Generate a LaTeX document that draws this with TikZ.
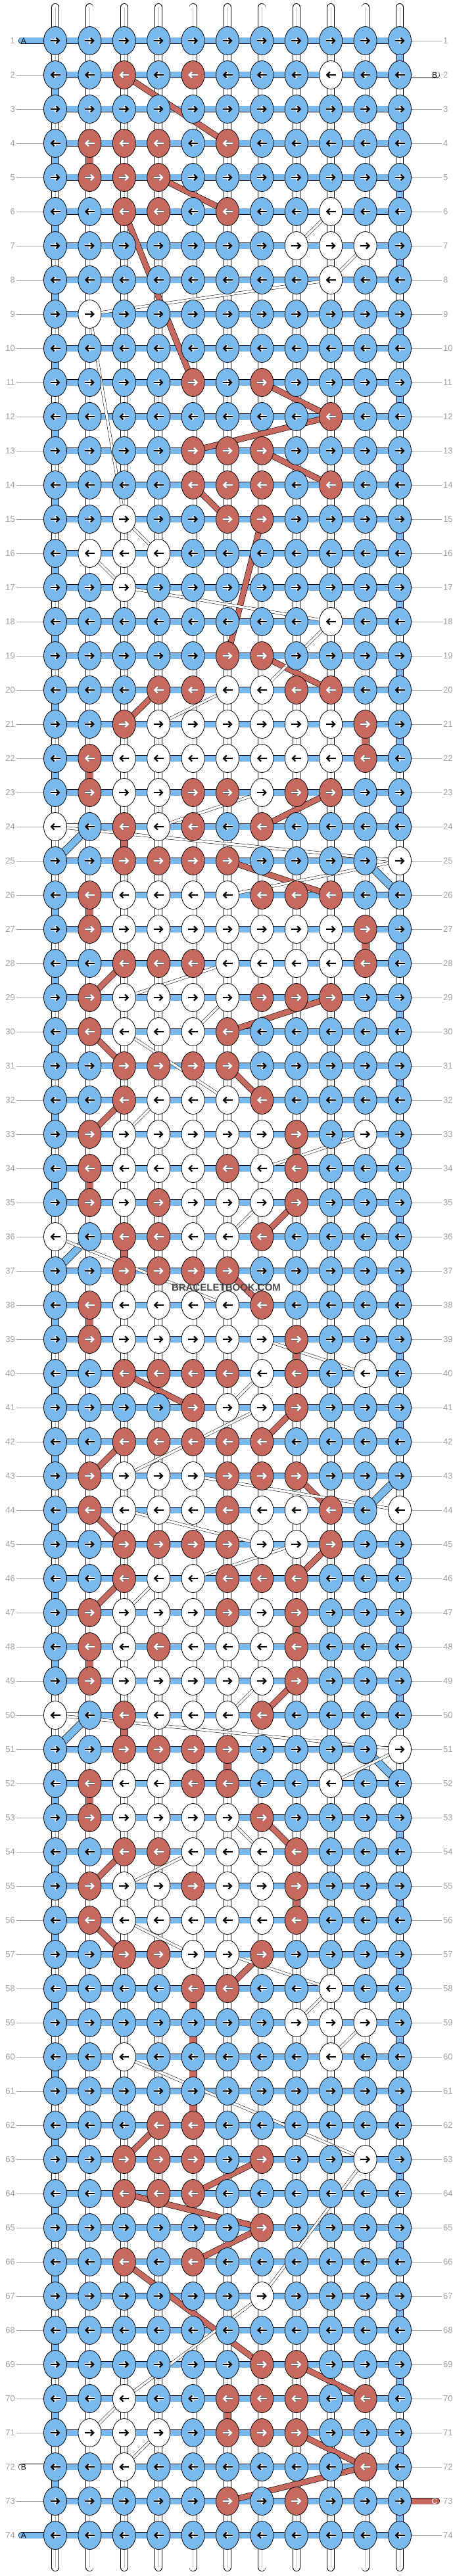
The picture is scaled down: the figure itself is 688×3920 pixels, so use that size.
\documentclass[tikz,border=0pt]{standalone}
\usepackage{fontspec}
\setmainfont{Liberation Sans}
\usetikzlibrary{shapes.geometric, arrows.meta}

\definecolor{threadblue}{RGB}{122,185,238}
\definecolor{threadred}{RGB}{200,105,95}
\definecolor{labelgray}{RGB}{160,160,160}

\tikzset{
    knot/.style={ellipse, draw=black, line width=0.8pt, minimum width=35pt, minimum height=43pt, inner sep=0pt},
    knotb/.style={fill=threadblue},
    knotr/.style={fill=threadred},
    knotw/.style={fill=white},
    arr/.style={line width=2.3pt, -{Straight Barb[length=4.5pt,width=9pt]}},
    arrb/.style={arr, black},
    arrr/.style={arr, white},
    arrw/.style={arr, black},
    halob/.style={arr, white, line width=4.2pt},
    halor/.style={arr, black!55, line width=3.6pt},
    halow/.style={draw=none},
    strand/.style={draw=black, line width=0.7pt, double=white, double distance=10.5pt, line cap=round},
    strandmid/.style={draw=black!25, line width=0.6pt},
    hbar/.style={draw=black, line width=0.7pt, double=threadblue, double distance=9pt},
    wbar/.style={hbar, double=white},
    vbar/.style={hbar, double distance=10.5pt},
    redvert/.style={hbar, double=threadred, double distance=10.5pt},
    redlink/.style={draw=black, line width=0.6pt, double=threadred, double distance=8pt},
    whitelink/.style={draw=black, line width=0.5pt, double=white, double distance=3.5pt},
    tick/.style={draw=labelgray, line width=0.8pt},
    rowlabel/.style={text=labelgray, font=\fontsize{13}{13}\selectfont, inner sep=2pt},
    tail/.style={draw=black, line width=0.7pt, double distance=9pt, line cap=round},
    tailtag/.style={font=\fontsize{12}{12}\selectfont, inner sep=0pt}
}

\begin{document}
\begin{tikzpicture}[x=1pt,y=1pt,yscale=-1]
    \useasboundingbox (0,0) rectangle (688,3920);

    % grid of knot positions
    \foreach \r in {1,...,74}
        \foreach \c in {1,...,11}
            \coordinate (p-\r-\c) at ({84+52.4*(\c-1)},{62+52*(\r-1)});

    % vertical threads
    \foreach \c in {1,...,11} {
        \coordinate (top-\c) at ({84+52.4*(\c-1)},11);
        \coordinate (bot-\c) at ({84+52.4*(\c-1)},3907);
        \draw[strand] (top-\c) -- (bot-\c);
        \draw[strandmid] (top-\c) -- (bot-\c);
    }

    % row numbers
    \foreach \r in {1,...,74} {
        \node[rowlabel, anchor=east] (nl-\r) at (25,{62+52*(\r-1)}) {\r};
        \node[rowlabel, anchor=west] (nr-\r) at (672,{62+52*(\r-1)}) {\r};
    }
    \foreach \r in {2,3,...,71,73}
        \draw[tick] (nl-\r.east) -- (p-\r-1);
    \foreach \r in {1,3,4,...,72,74}
        \draw[tick] (nr-\r.west) -- (p-\r-11);

    % turns of the working thread
    \foreach \r in {1,3,...,23,27,29,...,41,45,47,49,53,55,...,73} {
        \pgfmathtruncatemacro\n{\r+1}
        \draw[vbar] (p-\r-11) -- (p-\n-11);
    }
    \foreach \r in {2,4,...,22,26,28,...,34,38,40,...,48,52,54,...,72} {
        \pgfmathtruncatemacro\n{\r+1}
        \draw[vbar] (p-\r-1) -- (p-\n-1);
    }
    \foreach \a/\b/\c/\d in {24/2/25/1, 25/10/26/11, 36/2/37/1, 43/11/44/10, 50/2/51/1, 51/10/52/11}
        \draw[vbar] (p-\a-\b) -- (p-\c-\d);

    % rows
    \foreach \r in {1,...,74}
        \draw[hbar] (p-\r-1) -- (p-\r-11);
    \foreach \r/\a/\b in {24/1/2, 25/10/11, 36/1/2, 44/10/11, 50/1/2, 51/10/11}
        \draw[wbar] (p-\r-\a) -- (p-\r-\b);

    % loose ends
    \coordinate (tail-A1) at (33,62);
    \coordinate (tail-B2) at (664,114);
    \coordinate (tail-B72) at (33,3754);
    \coordinate (tail-C73) at (664,3806);
    \coordinate (tail-A74) at (33,3858);
    \draw[tail, double=threadblue] (p-1-1) -- (tail-A1);
    \draw[tail, double=white] (p-2-11) -- (tail-B2);
    \draw[tail, double=white] (p-72-1) -- (tail-B72);
    \draw[tail, double=threadred] (p-73-11) -- (tail-C73);
    \draw[tail, double=threadblue] (p-74-1) -- (tail-A74);
    \node[tailtag] (tag-A1) at (36,62) {A};
    \node[tailtag] (tag-B2) at (661,114) {B};
    \node[tailtag] (tag-B72) at (36,3754) {B};
    \node[tailtag, text=white] (tag-C73) at (661,3806) {C};
    \node[tailtag] (tag-A74) at (36,3858) {A};

    % red thread
    \foreach \a/\b/\c/\d in {4/2/5/2, 21/10/22/10, 22/2/23/2, 24/3/25/3, 26/2/27/2, 27/10/28/10,
            33/8/34/8, 34/2/35/2, 36/3/37/3, 38/2/39/2, 39/8/40/8, 47/8/48/8, 48/2/49/2,
            50/3/51/3, 51/6/52/6, 52/2/53/2, 55/8/56/8, 58/5/59/5, 59/5/60/5, 60/5/61/5,
            61/5/62/5, 70/6/71/6}
        \draw[redvert] (p-\a-\b) -- (p-\c-\d);
    \foreach \a/\b/\c/\d in {2/3/4/6, 5/4/6/6, 6/3/11/5, 11/7/12/9, 12/9/13/5, 13/7/14/9, 14/5/15/6,
            15/7/19/6, 19/7/20/9, 20/4/21/3, 23/9/24/7, 25/6/26/9, 28/3/29/2, 29/9/30/6, 30/2/31/3,
            31/6/32/7, 32/3/33/2, 35/8/36/7, 37/6/38/7, 40/3/41/5, 41/8/42/7, 42/3/43/2, 43/8/44/9,
            44/2/45/3, 45/9/46/8, 46/3/47/2, 49/8/50/7, 53/7/54/8, 54/3/55/2, 56/2/57/3, 57/7/58/6,
            62/4/63/3, 63/7/64/5, 64/3/65/7, 65/7/66/5, 66/3/69/7, 69/8/70/10, 71/8/72/10, 72/10/73/6}
        \draw[redlink] (p-\a-\b) -- (p-\c-\d);

    % white threads
    \foreach \a/\b/\c/\d in {6/9/7/8, 7/10/8/9, 8/9/9/2, 9/2/15/3, 15/3/16/4, 16/2/17/3, 17/3/18/9,
            18/9/20/7, 20/6/21/4, 23/7/24/4, 24/1/25/11, 25/11/26/6, 28/6/29/3, 29/6/30/5, 30/3/32/6,
            32/4/33/3, 33/10/34/7, 35/7/36/6, 36/1/38/6, 39/7/40/10, 40/7/41/6, 41/7/43/3, 43/5/44/11,
            44/3/45/7, 45/8/46/5, 46/4/47/3, 49/7/50/6, 50/1/51/11, 51/11/52/9, 53/6/54/7, 54/5/55/3,
            56/3/57/5, 57/6/58/9, 58/9/59/8, 59/10/60/9, 60/3/63/10, 63/10/67/7, 67/7/70/3, 70/3/71/2,
            71/4/72/3}
        \draw[whitelink] (p-\a-\b) -- (p-\c-\d);

    % knots
    \foreach \r/\pat in {
            1/{b,b,b,b,b,b,b,b,b,b,b}, 2/{b,b,r,b,r,b,b,b,w,b,b}, 3/{b,b,b,b,b,b,b,b,b,b,b},
            4/{b,r,r,r,b,r,b,b,b,b,b}, 5/{b,r,r,r,b,b,b,b,b,b,b}, 6/{b,b,r,r,b,r,b,b,w,b,b},
            7/{b,b,b,b,b,b,b,w,w,w,b}, 8/{b,b,b,b,b,b,b,b,w,b,b}, 9/{b,w,b,b,b,b,b,b,b,b,b},
            10/{b,b,b,b,b,b,b,b,b,b,b}, 11/{b,b,b,b,r,b,r,b,b,b,b}, 12/{b,b,b,b,b,b,b,b,r,b,b},
            13/{b,b,b,b,r,r,r,b,b,b,b}, 14/{b,b,b,b,r,r,r,b,r,b,b}, 15/{b,b,w,b,b,r,r,b,b,b,b},
            16/{b,w,w,w,b,b,b,b,b,b,b}, 17/{b,b,w,b,b,b,b,b,b,b,b}, 18/{b,b,b,b,b,b,b,b,w,b,b},
            19/{b,b,b,b,b,r,r,b,b,b,b}, 20/{b,b,b,r,r,w,w,r,r,b,b}, 21/{b,b,r,w,w,w,w,w,w,r,b},
            22/{b,r,w,w,w,w,w,w,w,r,b}, 23/{b,r,w,w,r,r,w,r,r,b,b}, 24/{w,b,r,w,r,b,r,b,b,b,b},
            25/{b,b,r,r,r,r,b,b,b,b,w}, 26/{b,r,w,w,w,w,r,r,r,b,b}, 27/{b,r,w,w,w,w,w,w,w,r,b},
            28/{b,b,r,r,r,w,w,w,w,r,b}, 29/{b,r,w,w,w,w,r,r,r,b,b}, 30/{b,r,w,w,w,r,b,b,b,b,b},
            31/{b,b,r,r,r,r,b,b,b,b,b}, 32/{b,b,r,w,w,w,r,b,b,b,b}, 33/{b,r,w,w,w,w,w,r,b,w,b},
            34/{b,r,w,w,w,r,w,r,b,b,b}, 35/{b,r,w,r,w,w,w,r,b,b,b}, 36/{w,b,r,r,w,w,r,b,b,b,b},
            37/{b,b,r,r,r,r,b,b,b,b,b}, 38/{b,r,w,w,w,w,r,b,b,b,b}, 39/{b,r,w,w,w,w,w,r,b,b,b},
            40/{b,b,r,r,r,r,w,r,b,w,b}, 41/{b,b,b,b,r,w,w,r,b,b,b}, 42/{b,b,r,r,r,r,r,b,b,b,b},
            43/{b,r,w,w,w,r,r,r,b,b,b}, 44/{b,r,w,w,w,r,w,w,r,b,w}, 45/{b,b,r,r,r,r,w,w,r,b,b},
            46/{b,b,r,w,w,r,r,r,b,b,b}, 47/{b,r,w,w,w,r,w,r,b,b,b}, 48/{b,r,w,r,w,w,w,r,b,b,b},
            49/{b,r,w,w,w,w,w,r,b,b,b}, 50/{w,b,r,w,w,w,r,b,b,b,b}, 51/{b,b,r,r,r,r,b,b,b,b,w},
            52/{b,r,w,w,r,r,b,b,w,b,b}, 53/{b,r,w,w,w,w,r,b,b,b,b}, 54/{b,b,r,r,w,w,w,r,b,b,b},
            55/{b,r,w,w,r,w,w,r,b,b,b}, 56/{b,r,w,w,w,w,w,r,b,b,b}, 57/{b,b,r,r,w,w,r,b,b,b,b},
            58/{b,b,b,b,r,r,b,b,w,b,b}, 59/{b,b,b,b,b,b,b,w,w,w,b}, 60/{b,b,w,b,b,b,b,b,w,b,b},
            61/{b,b,b,b,b,b,b,b,b,b,b}, 62/{b,b,b,r,r,b,b,b,b,b,b}, 63/{b,b,r,r,r,b,r,b,b,w,b},
            64/{b,b,r,r,r,b,b,b,b,b,b}, 65/{b,b,b,b,b,b,r,b,b,b,b}, 66/{b,b,r,b,r,b,b,b,b,b,b},
            67/{b,b,b,b,b,b,w,b,b,b,b}, 68/{b,b,b,b,b,b,b,b,b,b,b}, 69/{b,b,b,b,b,b,r,r,b,b,b},
            70/{b,b,w,b,b,r,r,r,b,r,b}, 71/{b,w,w,w,b,r,r,r,b,b,b}, 72/{b,b,w,b,b,b,b,b,b,r,b},
            73/{b,b,b,b,b,r,b,r,b,b,b}, 74/{b,b,b,b,b,b,b,b,b,b,b}} {
        \ifodd\r \def\ax{-7.5}\def\bx{7.5}\else \def\ax{7.5}\def\bx{-7.5}\fi
        \foreach \k [count=\c] in \pat {
            \node[knot, knot\k] (k-\r-\c) at (p-\r-\c) {};
            \draw[halo\k, shift={(p-\r-\c)}] (\ax,0) -- (\bx,0);
            \draw[arr\k, shift={(p-\r-\c)}] (\ax,0) -- (\bx,0);
        }
    }

    % watermark
    \node[font=\bfseries\fontsize{15}{15}\selectfont, text=black!72] (mark) at (344,1959) {BRACELETBOOK.COM};

\end{tikzpicture}
\end{document}
